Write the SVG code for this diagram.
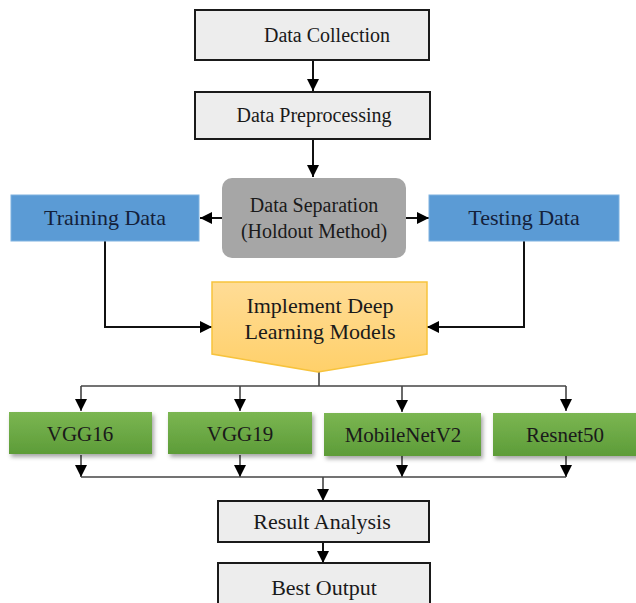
<svg xmlns="http://www.w3.org/2000/svg" width="636" height="603" viewBox="0 0 636 603">
<defs>
<style>
text{font-family:"Times New Roman","Liberation Serif","DejaVu Serif",serif;font-size:20px;fill:#1a1a1a;text-anchor:middle}
.tb{fill:#14213a;font-size:22px}
.l{font-size:22px}
.g{font-size:21px}
.gray{fill:#ededed;stroke:#1a1a1a;stroke-width:2}
.blue{fill:#5b9bd5;stroke:#7fb2e0;stroke-width:1}
.green{fill:url(#gg);filter:url(#sh)}
.c{fill:none;stroke:#111;stroke-width:2;marker-end:url(#ah)}
.d{fill:none;stroke:#444;stroke-width:1.6}
.da{fill:none;stroke:#444;stroke-width:1.6;marker-end:url(#ah)}
</style>
<marker id="ah" markerUnits="userSpaceOnUse" markerWidth="12" markerHeight="12" refX="12" refY="6" orient="auto">
<path d="M0,0 L12,6 L0,12 z" fill="#000"/>
</marker>
<linearGradient id="gg" x1="0" y1="0" x2="0" y2="1">
<stop offset="0" stop-color="#7bb652"/>
<stop offset="1" stop-color="#5d9c38"/>
</linearGradient>
<linearGradient id="yg" x1="0" y1="0" x2="0" y2="1">
<stop offset="0" stop-color="#ffdc96"/>
<stop offset="1" stop-color="#ffd06a"/>
</linearGradient>
<filter id="sh" x="-10%" y="-20%" width="125%" height="150%">
<feDropShadow dx="2" dy="3" stdDeviation="2" flood-color="#000" flood-opacity="0.35"/>
</filter>
</defs>

<g id="connectors">
<line class="c" x1="313" y1="60" x2="313" y2="91"/>
<line class="c" x1="313" y1="139" x2="313" y2="177"/>
<line class="c" x1="222" y1="218" x2="200" y2="218"/>
<line class="c" x1="406" y1="218" x2="429" y2="218"/>
<polyline class="c" points="105,241 105,327 212,327"/>
<polyline class="c" points="524,241 524,327 427,327"/>
<line class="d" x1="319" y1="372" x2="319" y2="386"/>
<line class="d" x1="81" y1="386" x2="566" y2="386"/>
<line class="da" x1="81" y1="386" x2="81" y2="411"/>
<line class="da" x1="240" y1="386" x2="240" y2="411"/>
<line class="da" x1="402" y1="386" x2="402" y2="412"/>
<line class="da" x1="566" y1="386" x2="566" y2="411"/>
<line class="da" x1="81" y1="455" x2="81" y2="477"/>
<line class="da" x1="240" y1="455" x2="240" y2="477"/>
<line class="da" x1="402" y1="456" x2="402" y2="477"/>
<line class="da" x1="566" y1="456" x2="566" y2="477"/>
<line class="d" x1="81" y1="477" x2="566" y2="477"/>
<line class="da" x1="323" y1="477" x2="323" y2="501"/>
<line class="c" x1="323" y1="542" x2="323" y2="563"/>
</g>

<g id="data-collection">
<rect class="gray" x="195" y="10" width="234" height="50"/>
<text x="327" y="42">Data Collection</text>
</g>
<g id="data-preprocessing">
<rect class="gray" x="195" y="92" width="235" height="47"/>
<text x="314" y="122">Data Preprocessing</text>
</g>
<g id="data-separation">
<rect x="222" y="178" width="184" height="80" rx="10" fill="#a6a6a6"/>
<text x="314" y="212">Data Separation</text>
<text x="314" y="238">(Holdout Method)</text>
</g>
<g id="training-data">
<rect class="blue" x="11" y="195" width="188" height="46"/>
<text class="tb" x="105" y="225">Training Data</text>
</g>
<g id="testing-data">
<rect class="blue" x="429" y="195" width="190" height="46"/>
<text class="tb" x="524" y="225">Testing Data</text>
</g>
<g id="implement">
<polygon points="212,282 427,282 427,354 318,372 212,354" fill="url(#yg)" stroke="#f7c33c" stroke-width="1.5"/>
<text class="l" x="320" y="313">Implement Deep</text>
<text class="l" x="320" y="339">Learning Models</text>
</g>
<g id="vgg16">
<rect class="green" x="9" y="412" width="143" height="42"/>
<text class="g" x="80" y="441">VGG16</text>
</g>
<g id="vgg19">
<rect class="green" x="168" y="412" width="144" height="42"/>
<text class="g" x="240" y="441">VGG19</text>
</g>
<g id="mobilenetv2">
<rect class="green" x="324" y="413" width="157" height="43"/>
<text class="g" x="403" y="442">MobileNetV2</text>
</g>
<g id="resnet50">
<rect class="green" x="493" y="413" width="146" height="43"/>
<text class="g" x="565" y="442">Resnet50</text>
</g>
<g id="result-analysis">
<rect class="gray" x="218" y="501" width="211" height="41"/>
<text class="l" x="322" y="529">Result Analysis</text>
</g>
<g id="best-output">
<rect class="gray" x="218" y="563" width="212" height="50"/>
<text class="l" x="324" y="595">Best Output</text>
</g>
</svg>
